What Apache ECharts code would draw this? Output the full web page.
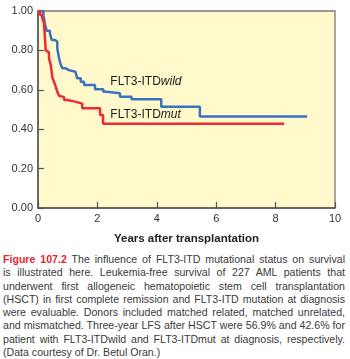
<!DOCTYPE html>
<html>
<head>
<meta charset="utf-8">
<script src="https://cdn.jsdelivr.net/npm/echarts@6/dist/echarts.min.js"></script>
<style>
  html, body { margin: 0; padding: 0; background: #fff; }
  #chart { position: absolute; left: 0; top: 0; width: 350px; height: 250px; }
  .caption {
    position: absolute; left: 3px; top: 253px; width: 342px;
    font-family: "Liberation Sans", Arial, sans-serif;
    font-size: 10.6px; line-height: 13.3px; color: #3a3a3a;
  }
  .caption div { text-align: justify; text-align-last: justify; }
  .caption div.last { text-align-last: left; }
  .caption b { color: #e8262d; }
</style>
</head>
<body>
<div id="chart"></div>
<div class="caption">
  <div><b>Figure 107.2</b> The influence of FLT3-ITD mutational status on survival</div>
  <div>is illustrated here. Leukemia-free survival of 227 AML patients that</div>
  <div>underwent first allogeneic hematopoietic stem cell transplantation</div>
  <div>(HSCT) in first complete remission and FLT3-ITD mutation at diagnosis</div>
  <div>were evaluable. Donors included matched related, matched unrelated,</div>
  <div>and mismatched. Three-year LFS after HSCT were 56.9% and 42.6% for</div>
  <div>patient with FLT3-ITDwild and FLT3-ITDmut at diagnosis, respectively.</div>
  <div class="last">(Data courtesy of Dr. Betul Oran.)</div>
</div>
<script>
// Kaplan-Meier steps (years, survival)
var wildTimes = [0, 0.18, 0.24, 0.29, 0.40, 0.46, 0.57, 0.65, 0.71, 0.76, 0.82, 0.92, 1.04, 1.26, 1.32, 1.44, 1.55, 1.92, 2.20, 2.31, 2.76, 3.15, 4.15, 5.45, 9.06]
var wildSurv  = [1.00, 0.98, 0.93, 0.90, 0.887, 0.853, 0.845, 0.81, 0.76, 0.73, 0.71, 0.70, 0.692, 0.684, 0.658, 0.641, 0.624, 0.603, 0.59, 0.582, 0.565, 0.552, 0.514, 0.465, 0.465]

var mutTimes = [0, 0.07, 0.14, 0.20, 0.26, 0.31, 0.37, 0.43, 0.48, 0.54, 0.60, 0.65, 0.71, 0.76, 0.88, 0.99, 1.25, 1.49, 2.09, 2.19, 8.29]
var mutSurv  = [1.00, 0.98, 0.965, 0.94, 0.80, 0.79, 0.76, 0.725, 0.665, 0.64, 0.615, 0.59, 0.57, 0.563, 0.548, 0.54, 0.53, 0.506, 0.472, 0.428, 0.428]

var groupNames = ['wild', 'mut']
var labelAt = [[2.42, 0.64], [2.42, 0.472]]

var xMin = 0, xMax = 10, xStep = 2
var yMin = 0, yMax = 1, yStep = 0.2

var blue = '#3a72c2'
var red = '#ee2a35'

function pairs (xs, ys) {
  return xs.map(function (x, i) { return [x, ys[i]] })
}

// curve label: FLT3-ITD + italic group name
function curveLabel (name, pos) {
  return {
    symbol: 'circle',
    symbolSize: 1,
    silent: true,
    itemStyle: { color: 'rgba(0,0,0,0)' },
    data: [{ coord: pos }],
    label: {
      show: true,
      position: 'right',
      distance: 0,
      formatter: '{a|FLT3-ITD}{b|' + name + '}',
      rich: {
        a: { fontFamily: 'Liberation Sans', fontSize: 12, color: '#222' },
        b: { fontFamily: 'Liberation Sans', fontSize: 12, color: '#222', fontStyle: 'italic' }
      }
    }
  }
}

var chart = echarts.init(document.getElementById('chart'))

var option = {
  animation: false,
  textStyle: { fontFamily: 'Liberation Sans' },
  grid: {
    left: 38, top: 11, width: 297, height: 197,
    show: true,
    backgroundColor: '#fff9cb',
    borderColor: '#7a7a7a',
    borderWidth: 1.3
  },
  xAxis: {
    type: 'value',
    min: xMin, max: xMax, interval: xStep,
    name: 'Years after transplantation',
    nameLocation: 'middle',
    nameGap: 25,
    nameTextStyle: { fontSize: 11.5, fontWeight: 'bold', color: '#222' },
    axisLine: { lineStyle: { color: '#555', width: 1.5 } },
    axisTick: { inside: true, length: 6, lineStyle: { color: '#555', width: 1.2 } },
    axisLabel: { fontSize: 11, color: '#333', margin: 5 },
    splitLine: { show: false }
  },
  yAxis: {
    type: 'value',
    min: yMin, max: yMax, interval: yStep,
    axisLine: { show: true, lineStyle: { color: '#555', width: 1.5 } },
    axisTick: { show: true, inside: true, length: 6, lineStyle: { color: '#555', width: 1.2 } },
    axisLabel: {
      fontSize: 11, color: '#333', margin: 5,
      formatter: function (v) { return v.toFixed(2) }
    },
    splitLine: { show: false }
  },
  series: [
    {
      name: groupNames[0],
      type: 'line',
      step: 'end',
      showSymbol: false,
      data: pairs(wildTimes, wildSurv),
      lineStyle: { color: blue, width: 2.5 },
      itemStyle: { color: blue },
      markPoint: curveLabel(groupNames[0], labelAt[0])
    },
    {
      name: groupNames[1],
      type: 'line',
      step: 'end',
      showSymbol: false,
      data: pairs(mutTimes, mutSurv),
      lineStyle: { color: red, width: 2.5 },
      itemStyle: { color: red },
      markPoint: curveLabel(groupNames[1], labelAt[1])
    }
  ]
}

chart.setOption(option)
</script>
</body>
</html>
